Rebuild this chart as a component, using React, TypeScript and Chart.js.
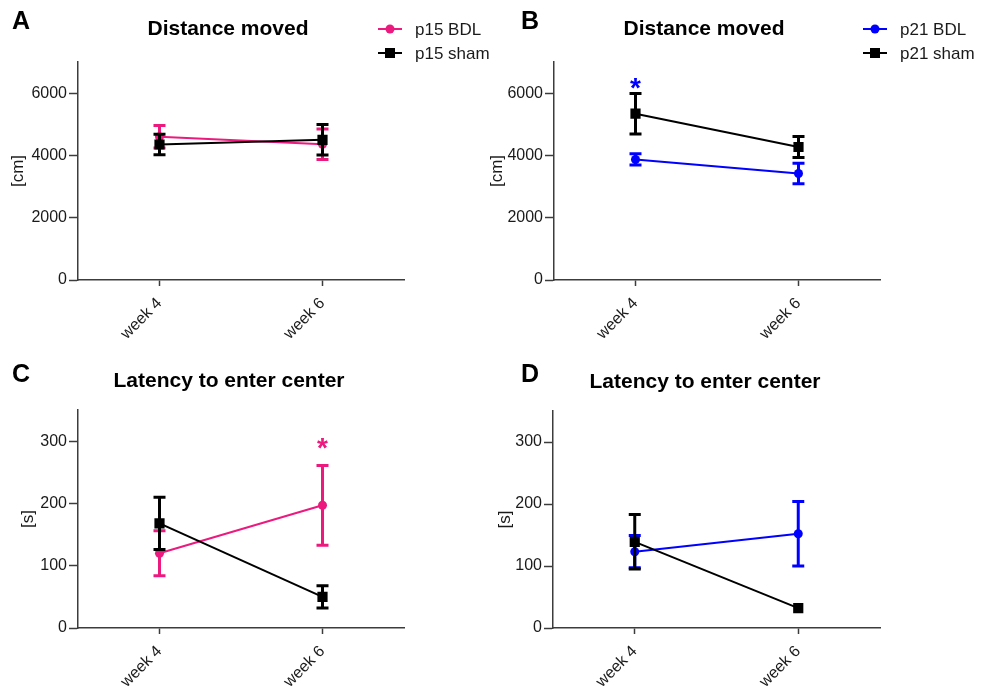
import React, { useEffect, useRef } from "react";
import { Chart, registerables } from "chart.js";
Chart.register(...registerables);

// ---------- data ----------
const weeks = ["week 4", "week 6"];

// Distance moved [cm]
const distP15BDL = [4600, 4360];
const distP15BDLErr = [360, 490];
const distP15Sham = [4350, 4500];
const distP15ShamErr = [330, 490];
const distP21BDL = [3870, 3420];
const distP21BDLErr = [180, 330];
const distP21Sham = [5340, 4270];
const distP21ShamErr = [650, 340];

// Latency to enter center [s]
const latP15BDL = [120, 197];
const latP15BDLErr = [36, 64];
const latP15Sham = [168, 50];
const latP15ShamErr = [42, 18];
const latP21BDL = [123, 152];
const latP21BDLErr = [26, 52];
const latP21Sham = [139, 32];
const latP21ShamErr = [44, 0];

const distTicks = [0, 2000, 4000, 6000];
const latTicks = [0, 100, 200, 300];
const distMax = 7000;
const latMax = 350;

// significance markers: [category index, value]
const starB = [0, 6400];
const starC = [1, 300];

const PINK = "#ec1a7f";
const BLUE = "#0000ff";
const BLACK = "#000000";
const AXIS = "#3c3c3c";
const TEXT = "#1a1a1a";
const FAMILY = "'Liberation Sans', Arial, Helvetica, sans-serif";

// ---------- plugins ----------
const errorBarPlugin = {
  id: "errorBars",
  beforeDatasetDraw(chart: any, args: any) {
    const ds = chart.data.datasets[args.index];
    const err = ds.errors;
    if (!err) return;
    const y = chart.scales.y;
    const ctx = chart.ctx;
    ctx.save();
    ctx.strokeStyle = ds.borderColor;
    ctx.lineWidth = 3;
    args.meta.data.forEach((pt: any, i: number) => {
      const v = ds.data[i];
      const e = err[i];
      if (!e) return;
      const x = pt.x;
      const yt = y.getPixelForValue(v + e);
      const yb = y.getPixelForValue(v - e);
      ctx.beginPath();
      ctx.moveTo(x, yt);
      ctx.lineTo(x, yb);
      ctx.moveTo(x - 6, yt);
      ctx.lineTo(x + 6, yt);
      ctx.moveTo(x - 6, yb);
      ctx.lineTo(x + 6, yb);
      ctx.stroke();
    });
    ctx.restore();
  },
};

const decorPlugin = {
  id: "decor",
  afterDraw(chart: any) {
    const o = chart.options.plugins.decor;
    if (!o) return;
    const ctx = chart.ctx;
    ctx.save();
    // panel letter
    ctx.fillStyle = "#000";
    ctx.font = `bold 25px ${FAMILY}`;
    ctx.textAlign = "left";
    ctx.textBaseline = "middle";
    ctx.fillText(o.letter, o.letterX, o.letterY);
    // title
    ctx.font = `bold 21px ${FAMILY}`;
    ctx.textAlign = "center";
    ctx.fillText(o.title, o.titleX, o.titleY);
    // legend
    if (o.legend) {
      chart.data.datasets.forEach((ds: any, i: number) => {
        const ly = o.legendY + i * o.legendGap;
        const lx = o.legendX;
        ctx.strokeStyle = ds.borderColor;
        ctx.fillStyle = ds.borderColor;
        ctx.lineWidth = 2;
        ctx.beginPath();
        ctx.moveTo(lx, ly);
        ctx.lineTo(lx + 24, ly);
        ctx.stroke();
        if (ds.pointStyle === "rect") {
          ctx.fillRect(lx + 12 - 5, ly - 5, 10, 10);
        } else {
          ctx.beginPath();
          ctx.arc(lx + 12, ly, 4.5, 0, Math.PI * 2);
          ctx.fill();
        }
        ctx.fillStyle = TEXT;
        ctx.font = `17px ${FAMILY}`;
        ctx.textAlign = "left";
        ctx.textBaseline = "middle";
        ctx.fillText(ds.label, o.legendTextX, ly + 1);
      });
    }
    // star
    if (o.star) {
      const [ci, val] = o.star;
      const x = chart.scales.x.getPixelForValue(ci);
      const y = chart.scales.y.getPixelForValue(val);
      ctx.fillStyle = o.starColor;
      ctx.font = `bold 28px ${FAMILY}`;
      ctx.textAlign = "center";
      ctx.textBaseline = "alphabetic";
      ctx.fillText("*", x, y + 16);
    }
    ctx.restore();
  },
};

// ---------- panel ----------
type Series = { label: string; data: number[]; err: number[]; color: string; style: string };

function Panel(props: any) {
  const ref = useRef<HTMLCanvasElement>(null);
  const p = props;
  useEffect(() => {
    const canvas = ref.current!;
    const datasets = p.series.map((s: Series) => ({
      label: s.label,
      data: s.data,
      errors: s.err,
      borderColor: s.color,
      backgroundColor: s.color,
      borderWidth: 2,
      pointStyle: s.style,
      pointRadius: s.style === "rect" ? 7.2 : 4.5,
      pointBorderWidth: 0,
      pointHoverRadius: 0,
      order: s.style === "rect" ? 0 : 1,
      tension: 0,
    }));
    const chart = new Chart(canvas, {
      type: "line",
      data: { labels: weeks, datasets },
      plugins: [errorBarPlugin, decorPlugin],
      options: {
        responsive: false,
        animation: false,
        devicePixelRatio: 1,
        layout: { padding: { left: 0, top: p.areaTop, right: p.width - p.areaRight, bottom: 0 } },
        plugins: {
          legend: { display: false },
          tooltip: { enabled: false },
          decor: p.decor,
        } as any,
        scales: {
          x: {
            type: "category",
            offset: true,
            afterFit(s: any) {
              s.height = p.height - p.areaBottom;
            },
            border: { display: true, color: AXIS, width: 1.5 },
            grid: { offset: false, drawOnChartArea: false, drawTicks: true, tickLength: 6, tickColor: AXIS, tickWidth: 1.5 },
            ticks: {
              maxRotation: 45,
              minRotation: 45,
              padding: 8,
              color: TEXT,
              font: { size: 16, family: FAMILY },
            },
          },
          y: {
            min: 0,
            max: p.yMax,
            afterFit(s: any) {
              s.width = p.areaLeft;
            },
            afterBuildTicks(s: any) {
              s.ticks = p.ticks.map((v: number) => ({ value: v }));
            },
            border: { display: true, color: AXIS, width: 1.5 },
            grid: { drawOnChartArea: false, drawTicks: true, tickLength: 9, tickColor: AXIS, tickWidth: 1.5 },
            ticks: {
              padding: 2,
              color: TEXT,
              font: { size: 16, family: FAMILY },
              callback: (v: any) => String(v),
            },
            title: {
              display: true,
              text: p.yTitle,
              color: TEXT,
              font: { size: 17, family: FAMILY },
              padding: { top: p.yTitlePad, bottom: 0 },
            },
          },
        },
      } as any,
    });
    return () => chart.destroy();
  }, []);
  return (
    <canvas
      ref={ref}
      width={p.width}
      height={p.height}
      style={{ position: "absolute", left: p.left, top: p.top, width: p.width, height: p.height }}
    />
  );
}

export default function App() {
  return (
    <div style={{ position: "absolute", left: 0, top: 0, width: 990, height: 686, background: "#fff", overflow: "hidden" }}>
      <Panel
        left={0}
        top={0}
        width={495}
        height={343}
        areaLeft={78}
        areaRight={404}
        areaTop={62}
        areaBottom={280}
        yMax={distMax}
        ticks={distTicks}
        yTitle="[cm]"
        yTitlePad={8}
        series={[
          { label: "p15 BDL", data: distP15BDL, err: distP15BDLErr, color: PINK, style: "circle" },
          { label: "p15 sham", data: distP15Sham, err: distP15ShamErr, color: BLACK, style: "rect" },
        ]}
        decor={{
          letter: "A", letterX: 12, letterY: 22,
          title: "Distance moved", titleX: 228, titleY: 29,
          legend: true, legendX: 378, legendY: 29, legendGap: 24, legendTextX: 415,
        }}
      />
      <Panel
        left={480}
        top={0}
        width={510}
        height={343}
        areaLeft={74}
        areaRight={400}
        areaTop={62}
        areaBottom={280}
        yMax={distMax}
        ticks={distTicks}
        yTitle="[cm]"
        yTitlePad={7}
        series={[
          { label: "p21 BDL", data: distP21BDL, err: distP21BDLErr, color: BLUE, style: "circle" },
          { label: "p21 sham", data: distP21Sham, err: distP21ShamErr, color: BLACK, style: "rect" },
        ]}
        decor={{
          letter: "B", letterX: 41, letterY: 22,
          title: "Distance moved", titleX: 224, titleY: 29,
          legend: true, legendX: 383, legendY: 29, legendGap: 24, legendTextX: 420,
          star: starB, starColor: BLUE,
        }}
      />
      <Panel
        left={0}
        top={343}
        width={495}
        height={343}
        areaLeft={78}
        areaRight={404}
        areaTop={67}
        areaBottom={285}
        yMax={latMax}
        ticks={latTicks}
        yTitle="[s]"
        yTitlePad={18}
        series={[
          { label: "p15 BDL", data: latP15BDL, err: latP15BDLErr, color: PINK, style: "circle" },
          { label: "p15 sham", data: latP15Sham, err: latP15ShamErr, color: BLACK, style: "rect" },
        ]}
        decor={{
          letter: "C", letterX: 12, letterY: 32,
          title: "Latency to enter center", titleX: 229, titleY: 38,
          legend: false,
          star: starC, starColor: PINK,
        }}
      />
      <Panel
        left={480}
        top={343}
        width={510}
        height={343}
        areaLeft={73}
        areaRight={400}
        areaTop={68}
        areaBottom={285}
        yMax={latMax}
        ticks={latTicks}
        yTitle="[s]"
        yTitlePad={15}
        series={[
          { label: "p21 BDL", data: latP21BDL, err: latP21BDLErr, color: BLUE, style: "circle" },
          { label: "p21 sham", data: latP21Sham, err: latP21ShamErr, color: BLACK, style: "rect" },
        ]}
        decor={{
          letter: "D", letterX: 41, letterY: 32,
          title: "Latency to enter center", titleX: 225, titleY: 39,
          legend: false,
        }}
      />
    </div>
  );
}
